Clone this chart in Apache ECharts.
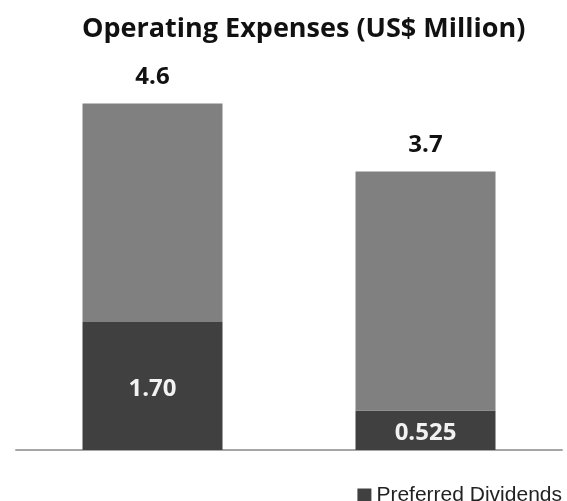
<!DOCTYPE html>
<html>
<head>
<meta charset="utf-8">
<script src="https://cdn.jsdelivr.net/npm/echarts@6/dist/echarts.min.js"></script>
<style>
  html, body { margin: 0; padding: 0; background: #ffffff; }
  #chart { width: 567px; height: 501px; }
</style>
</head>
<body>
<div id="chart"></div>
<script>
// Two periods, stacked: preferred dividends at the base, the rest of operating expenses above.
const categories = ['Period 1', 'Period 2'];
const totalExpenses = [4.6, 3.7];
const preferredDividends = [1.70, 0.525];
const totalLabels = ['4.6', '3.7'];
const dividendLabels = ['1.70', '0.525'];

const otherExpenses = totalExpenses.map((t, i) => +(t - preferredDividends[i]).toFixed(3));

const chart = echarts.init(document.getElementById('chart'), null, { renderer: 'canvas' });

chart.setOption({
  backgroundColor: '#ffffff',
  animation: false,
  title: {
    text: 'Operating Expenses (US$ Million)',
    left: 82,
    top: 16,
    padding: 0,
    textStyle: {
      fontFamily: 'Open Sans',
      fontWeight: 'bold',
      fontSize: 27,
      color: '#111111'
    }
  },
  legend: {
    data: ['Preferred Dividends'],
    right: 5,
    top: 485,
    itemWidth: 14,
    itemHeight: 14,
    icon: 'rect',
    padding: 0,
    textStyle: {
      fontFamily: 'Liberation Sans',
      fontSize: 21,
      color: '#222222'
    }
  },
  grid: {
    left: 16,
    right: 5,
    top: 73.5,
    bottom: 51,
    containLabel: false
  },
  xAxis: {
    type: 'category',
    data: categories,
    axisLine: { show: true, lineStyle: { color: '#a6a6a6', width: 2 } },
    axisTick: { show: false },
    axisLabel: { show: false }
  },
  yAxis: {
    type: 'value',
    min: 0,
    max: 5,
    show: false,
    splitLine: { show: false }
  },
  series: [
    {
      name: 'Preferred Dividends',
      type: 'bar',
      stack: 'opex',
      barWidth: 140,
      data: preferredDividends,
      itemStyle: { color: '#404040' },
      label: {
        show: true,
        position: 'inside',
        offset: [0, 3],
        formatter: p => dividendLabels[p.dataIndex],
        fontFamily: 'Open Sans',
        fontWeight: 'bold',
        fontSize: 24,
        color: '#f2f2f2'
      }
    },
    {
      name: 'Other Expenses',
      type: 'bar',
      stack: 'opex',
      barWidth: 140,
      data: otherExpenses,
      itemStyle: { color: '#808080' },
      label: {
        show: true,
        position: 'top',
        distance: 14,
        formatter: p => totalLabels[p.dataIndex],
        fontFamily: 'Open Sans',
        fontWeight: 'bold',
        fontSize: 24,
        color: '#111111'
      }
    }
  ]
});
</script>
</body>
</html>
